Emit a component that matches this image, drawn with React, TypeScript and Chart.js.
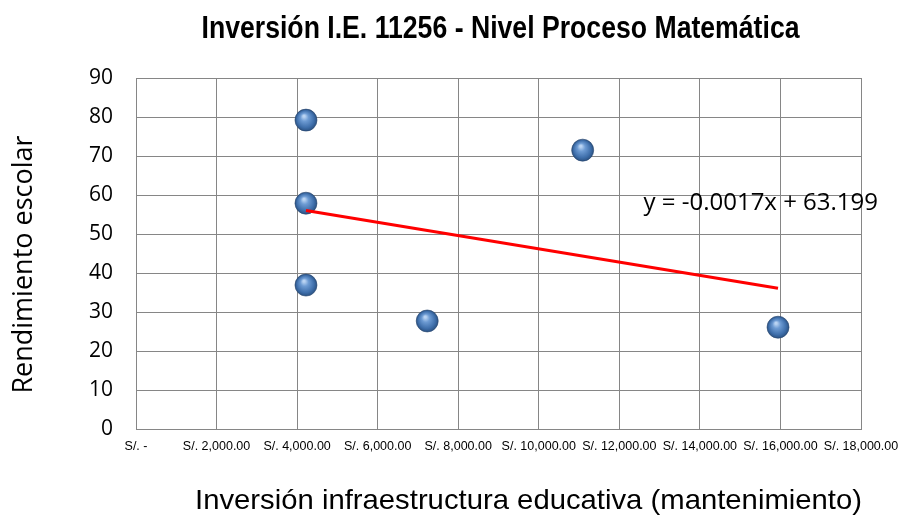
import React, { useEffect, useRef } from "react";
import { Chart, registerables } from "chart.js";

Chart.register(...registerables);

// ---- Data ----
const TITLE = "Inversión I.E. 11256 - Nivel Proceso Matemática";
const X_TITLE = "Inversión infraestructura educativa (mantenimiento)";
const Y_TITLE = "Rendimiento escolar";
const EQUATION = "y = -0.0017x + 63.199";

const investment = [4220, 4220, 4220, 7230, 11090, 15940];
const performance = [79.2, 57.9, 36.9, 27.7, 71.5, 26.1];

const trendX = [4220, 15940];
const trendY = [56.0, 36.1];

const equationAnchor = [12600, 58];

const X_MIN = 0;
const X_MAX = 18000;
const X_STEP = 2000;
const Y_MIN = 0;
const Y_MAX = 90;
const Y_STEP = 10;

const ARIAL = '"Liberation Sans", Arial, sans-serif';
const CAL = '"Open Sans", "Noto Sans", sans-serif';

function drawFitted(ctx: any, text: string, cx: number, cy: number, font: string, width: number) {
  ctx.save();
  ctx.font = font;
  const w = ctx.measureText(text).width;
  const sx = width / w;
  ctx.translate(cx, cy);
  ctx.scale(sx, 1);
  ctx.fillText(text, 0, 0);
  ctx.restore();
}

const textPlugin = {
  id: "textPlugin",
  afterDraw(chart: any) {
    const { ctx, chartArea: a, scales } = chart;
    ctx.save();
    ctx.fillStyle = "#000";
    ctx.textAlign = "center";
    ctx.textBaseline = "middle";
    // title: condensed bold look
    drawFitted(ctx, TITLE, (a.left + a.right) / 2 + 2, 29, "bold 32px " + ARIAL, 598);
    // x axis title
    drawFitted(ctx, X_TITLE, (a.left + a.right) / 2 + 30, a.bottom + 72, "28px " + ARIAL, 667);
    // y axis title
    ctx.save();
    ctx.translate(24, (a.top + a.bottom) / 2 + 11);
    ctx.rotate(-Math.PI / 2);
    ctx.font = "27px " + CAL;
    ctx.fillText(Y_TITLE, 0, 0);
    ctx.restore();
    // trend equation
    ctx.textAlign = "left";
    ctx.font = "24px " + CAL;
    ctx.fillText(
      EQUATION,
      scales.x.getPixelForValue(equationAnchor[0]),
      scales.y.getPixelForValue(equationAnchor[1])
    );
    ctx.restore();
  },
};

function sphereFill(c: any) {
  const chart = c.chart;
  const xs = chart.scales && chart.scales.x;
  const ys = chart.scales && chart.scales.y;
  const raw = c.raw;
  if (!xs || !ys || !raw || !isFinite(xs.left)) return "#4f81bd";
  const px = xs.getPixelForValue(raw.x);
  const py = ys.getPixelForValue(raw.y);
  const r = 11;
  const g = chart.ctx.createRadialGradient(px - 2, py - 4, 1, px, py, r);
  g.addColorStop(0, "#b9d3f2");
  g.addColorStop(0.3, "#6d9bd3");
  g.addColorStop(0.75, "#3f6fab");
  g.addColorStop(1, "#2b5283");
  return g;
}

export default function App() {
  const ref = useRef<HTMLCanvasElement | null>(null);
  useEffect(() => {
    document.body.style.margin = "0";
    const canvas = ref.current;
    if (!canvas) return;
    const chart = new Chart(canvas, {
      type: "scatter",
      data: {
        datasets: [
          {
            type: "line",
            label: "trend",
            data: trendX.map((x, i) => ({ x, y: trendY[i] })),
            borderColor: "#ff0000",
            borderWidth: 3,
            pointRadius: 0,
            fill: false,
            order: 0,
          } as any,
          {
            label: "data",
            data: investment.map((x, i) => ({ x, y: performance[i] })),
            pointRadius: 11,
            pointHoverRadius: 11,
            pointBorderWidth: 1,
            pointBorderColor: "rgba(40,70,110,0.6)",
            pointBackgroundColor: sphereFill,
            order: 1,
          } as any,
        ],
      },
      options: {
        responsive: false,
        animation: false,
        events: [],
        layout: { padding: { top: 78, left: 0, right: 40, bottom: 0 } },
        plugins: {
          legend: { display: false },
          tooltip: { enabled: false },
          title: { display: false },
        },
        scales: {
          x: {
            type: "linear",
            min: X_MIN,
            max: X_MAX,
            afterFit: (s: any) => {
              s.height = 89;
              s.paddingLeft = 0;
              s.paddingRight = 0;
            },
            grid: { color: "#868686", lineWidth: 1, drawTicks: false },
            border: { color: "#868686" },
            ticks: {
              stepSize: X_STEP,
              autoSkip: false,
              maxRotation: 0,
              minRotation: 0,
              padding: 10,
              color: "#000",
              font: { family: ARIAL, size: 12.5 },
              callback: (v: any) =>
                Number(v) === 0
                  ? "S/. -"
                  : "S/. " +
                    Number(v).toLocaleString("en-US", {
                      minimumFractionDigits: 2,
                      maximumFractionDigits: 2,
                    }),
            },
          },
          y: {
            type: "linear",
            min: Y_MIN,
            max: Y_MAX,
            afterFit: (s: any) => {
              s.width = 136;
              s.paddingTop = 0;
              s.paddingBottom = 0;
            },
            grid: { color: "#868686", lineWidth: 1, drawTicks: false },
            border: { color: "#868686" },
            ticks: {
              stepSize: Y_STEP,
              padding: 23,
              color: "#000",
              font: { family: CAL, size: 21 },
            },
          },
        },
      },
      plugins: [textPlugin],
    });
    return () => chart.destroy();
  }, []);
  return (
    <div style={{ width: 901, height: 518, background: "#fff" }}>
      <canvas ref={ref} width={901} height={518} />
    </div>
  );
}
